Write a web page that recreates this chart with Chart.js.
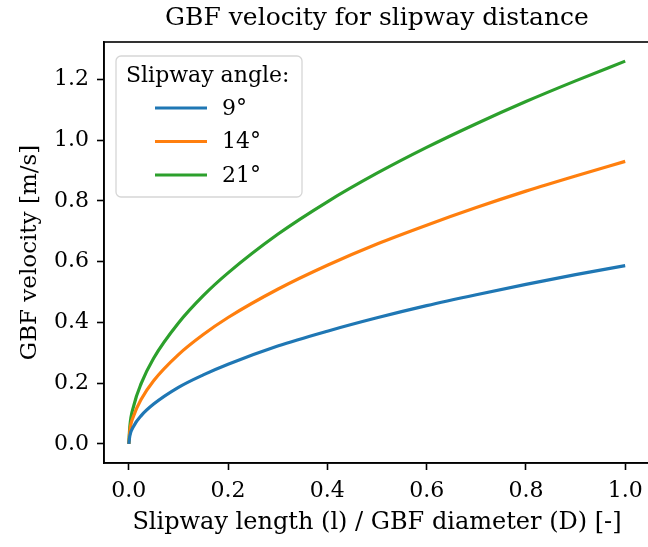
<!DOCTYPE html>
<html>
<head>
<meta charset="utf-8">
<script src="https://cdn.jsdelivr.net/npm/chart.js@4"></script>
<style>
  html, body { margin: 0; padding: 0; overflow: hidden; background: #fff; }
  canvas { display: block; }
</style>
</head>
<body>
<canvas id="c" width="652" height="547"></canvas>
<script>
// valeurs
var ratio = [0, 0.002, 0.01, 0.025, 0.05, 0.1, 0.15, 0.2, 0.3, 0.4, 0.5, 0.6, 0.7, 0.8, 0.9, 1.0];
var angle9 = [0, 0.026, 0.059, 0.093, 0.131, 0.186, 0.227, 0.262, 0.322, 0.371, 0.415, 0.455, 0.491, 0.525, 0.557, 0.587];
var angle14 = [0, 0.042, 0.093, 0.147, 0.208, 0.294, 0.360, 0.416, 0.509, 0.588, 0.658, 0.720, 0.778, 0.832, 0.882, 0.930];
var angle21 = [0, 0.056, 0.126, 0.199, 0.282, 0.398, 0.488, 0.563, 0.690, 0.797, 0.891, 0.976, 1.054, 1.127, 1.195, 1.260];
var seriesNames = ['9°', '14°', '21°'];
var xTicks = [0, 0.2, 0.4, 0.6, 0.8, 1.0];
var yTicks = [0, 0.2, 0.4, 0.6, 0.8, 1.0, 1.2];

var serif = "'DejaVu Serif', 'Liberation Serif', serif";
var colors = ['#1f77b4', '#ff7f0e', '#2ca02c'];

function pts(ys) {
  return ratio.map(function (x, i) { return { x: x, y: ys[i] }; });
}

// cadre complet + légende façon matplotlib
var frameLegend = {
  id: 'frameLegend',
  afterDraw: function (chart) {
    var ctx = chart.ctx, a = chart.chartArea;
    ctx.save();
    ctx.strokeStyle = '#000';
    ctx.lineWidth = 1.6;
    ctx.strokeRect(a.left, a.top, a.right - a.left, a.bottom - a.top);

    var bx = 116, by = 56, bw = 186, bh = 141;
    ctx.beginPath();
    ctx.roundRect(bx, by, bw, bh, 5);
    ctx.fillStyle = 'rgba(255,255,255,0.8)';
    ctx.fill();
    ctx.strokeStyle = '#d6d6d6';
    ctx.lineWidth = 1.3;
    ctx.stroke();

    ctx.fillStyle = '#000';
    ctx.font = '22px ' + serif;
    ctx.textBaseline = 'middle';
    ctx.textAlign = 'left';
    ctx.fillText('Slipway angle:', 126, 76);
    chart.data.datasets.forEach(function (ds, i) {
      var y = 108 + i * 33.5;
      ctx.strokeStyle = ds.borderColor;
      ctx.lineWidth = 3.2;
      ctx.beginPath();
      ctx.moveTo(155, y);
      ctx.lineTo(207, y);
      ctx.stroke();
      ctx.fillStyle = '#000';
      ctx.fillText(ds.label, 222, y + 1);
    });
    ctx.restore();
  }
};

new Chart(document.getElementById('c'), {
  type: 'line',
  data: {
    datasets: [
      { label: seriesNames[0], data: pts(angle9), borderColor: colors[0] },
      { label: seriesNames[1], data: pts(angle14), borderColor: colors[1] },
      { label: seriesNames[2], data: pts(angle21), borderColor: colors[2] }
    ]
  },
  options: {
    responsive: false,
    animation: false,
    layout: { padding: { left: 0, right: 2, top: 0, bottom: 0 } },
    elements: {
      point: { radius: 0 },
      line: { borderWidth: 3.2, cubicInterpolationMode: 'monotone', fill: false }
    },
    plugins: {
      legend: { display: false },
      tooltip: { enabled: false },
      title: {
        display: true,
        fullSize: false,
        text: 'GBF velocity for slipway distance',
        color: '#000',
        font: { family: serif, size: 25, weight: 'normal' },
        padding: { top: 3, bottom: 9 }
      }
    },
    scales: {
      x: {
        type: 'linear',
        min: -0.05,
        max: 1.05,
        afterBuildTicks: function (s) { s.ticks = xTicks.map(function (v) { return { value: v }; }); },
        afterFit: function (s) { s.height = 84; },
        ticks: {
          color: '#000',
          font: { family: serif, size: 22 },
          padding: 8,
          maxRotation: 0,
          callback: function (v) { return v.toFixed(1); }
        },
        grid: { drawOnChartArea: false, drawTicks: true, tickLength: 7, tickWidth: 1.6, color: '#000' },
        border: { display: true, color: '#000', width: 1.6 },
        title: {
          display: true,
          text: 'Slipway length (l) / GBF diameter (D) [-]',
          color: '#000',
          font: { family: serif, size: 24 },
          padding: { top: 0, bottom: 10 }
        }
      },
      y: {
        type: 'linear',
        min: -0.063,
        max: 1.323,
        afterBuildTicks: function (s) { s.ticks = yTicks.map(function (v) { return { value: v }; }); },
        afterFit: function (s) { s.width = 104; },
        ticks: {
          color: '#000',
          font: { family: serif, size: 22 },
          padding: 8,
          callback: function (v) { return v.toFixed(1); }
        },
        grid: { drawOnChartArea: false, drawTicks: true, tickLength: 7, tickWidth: 1.6, color: '#000' },
        border: { display: true, color: '#000', width: 1.6 },
        title: {
          display: true,
          text: 'GBF velocity [m/s]',
          color: '#000',
          font: { family: serif, size: 23 },
          padding: { top: 16, bottom: 0 }
        }
      }
    }
  },
  plugins: [frameLegend]
});
</script>
</body>
</html>
